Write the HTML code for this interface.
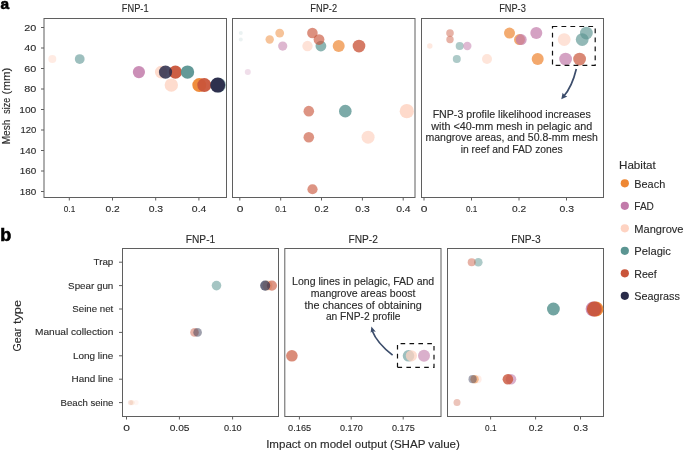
<!DOCTYPE html>
<html><head><meta charset="utf-8"><style>
html,body{margin:0;padding:0;background:#fff;}
body{width:685px;height:450px;overflow:hidden;}
svg{display:block;font-family:"Liberation Sans", sans-serif;will-change:transform;}
text{stroke:#2a2a2a;stroke-width:0.12px;}
</style></head><body>
<svg width="685" height="450" viewBox="0 0 685 450">
<rect width="685" height="450" fill="#fff"/>
<text x="0.5" y="9.0" font-size="15.5" text-anchor="start" font-weight="bold" fill="#000" style="stroke:#000;stroke-width:0.6px">a</text>
<text x="0.3" y="241.3" font-size="18" text-anchor="start" font-weight="bold" fill="#000" style="stroke:#000;stroke-width:0.6px">b</text>
<text x="135.2" y="11.9" font-size="10.3" text-anchor="middle" font-weight="normal" fill="#2a2a2a" textLength="26.7" lengthAdjust="spacingAndGlyphs">FNP-1</text>
<text x="323.7" y="11.9" font-size="10.3" text-anchor="middle" font-weight="normal" fill="#2a2a2a" textLength="26.7" lengthAdjust="spacingAndGlyphs">FNP-2</text>
<text x="512.5" y="11.9" font-size="10.3" text-anchor="middle" font-weight="normal" fill="#2a2a2a" textLength="26.7" lengthAdjust="spacingAndGlyphs">FNP-3</text>
<rect x="44" y="18.5" width="182.5" height="179.0" fill="none" stroke="#5f5f5f" stroke-width="1"/>
<rect x="232.5" y="18.5" width="182.5" height="179.0" fill="none" stroke="#5f5f5f" stroke-width="1"/>
<rect x="421.5" y="18.5" width="182.0" height="179.0" fill="none" stroke="#5f5f5f" stroke-width="1"/>
<line x1="41" y1="27.5" x2="44" y2="27.5" stroke="#5f5f5f" stroke-width="1"/>
<text x="36.3" y="30.9" font-size="9.6" text-anchor="end" font-weight="normal" fill="#2a2a2a" textLength="12.0" lengthAdjust="spacingAndGlyphs">20</text>
<line x1="41" y1="48.0" x2="44" y2="48.0" stroke="#5f5f5f" stroke-width="1"/>
<text x="36.3" y="51.4" font-size="9.6" text-anchor="end" font-weight="normal" fill="#2a2a2a" textLength="12.0" lengthAdjust="spacingAndGlyphs">40</text>
<line x1="41" y1="68.5" x2="44" y2="68.5" stroke="#5f5f5f" stroke-width="1"/>
<text x="36.3" y="71.9" font-size="9.6" text-anchor="end" font-weight="normal" fill="#2a2a2a" textLength="12.0" lengthAdjust="spacingAndGlyphs">60</text>
<line x1="41" y1="89.0" x2="44" y2="89.0" stroke="#5f5f5f" stroke-width="1"/>
<text x="36.3" y="92.4" font-size="9.6" text-anchor="end" font-weight="normal" fill="#2a2a2a" textLength="12.0" lengthAdjust="spacingAndGlyphs">80</text>
<line x1="41" y1="109.5" x2="44" y2="109.5" stroke="#5f5f5f" stroke-width="1"/>
<text x="36.3" y="112.9" font-size="9.6" text-anchor="end" font-weight="normal" fill="#2a2a2a" textLength="17.099999999999998" lengthAdjust="spacingAndGlyphs">100</text>
<line x1="41" y1="130.0" x2="44" y2="130.0" stroke="#5f5f5f" stroke-width="1"/>
<text x="36.3" y="133.4" font-size="9.6" text-anchor="end" font-weight="normal" fill="#2a2a2a" textLength="15.9" lengthAdjust="spacingAndGlyphs">120</text>
<line x1="41" y1="150.5" x2="44" y2="150.5" stroke="#5f5f5f" stroke-width="1"/>
<text x="36.3" y="153.9" font-size="9.6" text-anchor="end" font-weight="normal" fill="#2a2a2a" textLength="16.5" lengthAdjust="spacingAndGlyphs">140</text>
<line x1="41" y1="171.0" x2="44" y2="171.0" stroke="#5f5f5f" stroke-width="1"/>
<text x="36.3" y="174.4" font-size="9.6" text-anchor="end" font-weight="normal" fill="#2a2a2a" textLength="16.5" lengthAdjust="spacingAndGlyphs">160</text>
<line x1="41" y1="191.5" x2="44" y2="191.5" stroke="#5f5f5f" stroke-width="1"/>
<text x="36.3" y="194.9" font-size="9.6" text-anchor="end" font-weight="normal" fill="#2a2a2a" textLength="16.5" lengthAdjust="spacingAndGlyphs">180</text>
<line x1="69.3" y1="197.5" x2="69.3" y2="200.5" stroke="#5f5f5f" stroke-width="1"/>
<text x="69.5" y="212.0" font-size="9.6" text-anchor="middle" font-weight="normal" fill="#2a2a2a" textLength="11.4" lengthAdjust="spacingAndGlyphs">0.1</text>
<line x1="112.5" y1="197.5" x2="112.5" y2="200.5" stroke="#5f5f5f" stroke-width="1"/>
<text x="112.7" y="212.0" font-size="9.6" text-anchor="middle" font-weight="normal" fill="#2a2a2a" textLength="14.200000000000001" lengthAdjust="spacingAndGlyphs">0.2</text>
<line x1="155.7" y1="197.5" x2="155.7" y2="200.5" stroke="#5f5f5f" stroke-width="1"/>
<text x="155.89999999999998" y="212.0" font-size="9.6" text-anchor="middle" font-weight="normal" fill="#2a2a2a" textLength="14.5" lengthAdjust="spacingAndGlyphs">0.3</text>
<line x1="198.9" y1="197.5" x2="198.9" y2="200.5" stroke="#5f5f5f" stroke-width="1"/>
<text x="199.1" y="212.0" font-size="9.6" text-anchor="middle" font-weight="normal" fill="#2a2a2a" textLength="14.5" lengthAdjust="spacingAndGlyphs">0.4</text>
<line x1="239.8" y1="197.5" x2="239.8" y2="200.5" stroke="#5f5f5f" stroke-width="1"/>
<text x="240.0" y="212.0" font-size="9.6" text-anchor="middle" font-weight="normal" fill="#2a2a2a" textLength="6.7" lengthAdjust="spacingAndGlyphs">0</text>
<line x1="280.7" y1="197.5" x2="280.7" y2="200.5" stroke="#5f5f5f" stroke-width="1"/>
<text x="280.9" y="212.0" font-size="9.6" text-anchor="middle" font-weight="normal" fill="#2a2a2a" textLength="11.4" lengthAdjust="spacingAndGlyphs">0.1</text>
<line x1="321.5" y1="197.5" x2="321.5" y2="200.5" stroke="#5f5f5f" stroke-width="1"/>
<text x="321.7" y="212.0" font-size="9.6" text-anchor="middle" font-weight="normal" fill="#2a2a2a" textLength="14.200000000000001" lengthAdjust="spacingAndGlyphs">0.2</text>
<line x1="362.4" y1="197.5" x2="362.4" y2="200.5" stroke="#5f5f5f" stroke-width="1"/>
<text x="362.59999999999997" y="212.0" font-size="9.6" text-anchor="middle" font-weight="normal" fill="#2a2a2a" textLength="14.5" lengthAdjust="spacingAndGlyphs">0.3</text>
<line x1="403.2" y1="197.5" x2="403.2" y2="200.5" stroke="#5f5f5f" stroke-width="1"/>
<text x="403.4" y="212.0" font-size="9.6" text-anchor="middle" font-weight="normal" fill="#2a2a2a" textLength="14.5" lengthAdjust="spacingAndGlyphs">0.4</text>
<line x1="424.0" y1="197.5" x2="424.0" y2="200.5" stroke="#5f5f5f" stroke-width="1"/>
<text x="424.2" y="212.0" font-size="9.6" text-anchor="middle" font-weight="normal" fill="#2a2a2a" textLength="6.7" lengthAdjust="spacingAndGlyphs">0</text>
<line x1="471.5" y1="197.5" x2="471.5" y2="200.5" stroke="#5f5f5f" stroke-width="1"/>
<text x="471.7" y="212.0" font-size="9.6" text-anchor="middle" font-weight="normal" fill="#2a2a2a" textLength="11.4" lengthAdjust="spacingAndGlyphs">0.1</text>
<line x1="519.0" y1="197.5" x2="519.0" y2="200.5" stroke="#5f5f5f" stroke-width="1"/>
<text x="519.2" y="212.0" font-size="9.6" text-anchor="middle" font-weight="normal" fill="#2a2a2a" textLength="14.200000000000001" lengthAdjust="spacingAndGlyphs">0.2</text>
<line x1="566.5" y1="197.5" x2="566.5" y2="200.5" stroke="#5f5f5f" stroke-width="1"/>
<text x="566.7" y="212.0" font-size="9.6" text-anchor="middle" font-weight="normal" fill="#2a2a2a" textLength="14.5" lengthAdjust="spacingAndGlyphs">0.3</text>
<text transform="translate(10,105) rotate(-90)" x="-39.30" y="0" font-size="10.5" fill="#2a2a2a" textLength="24.70" lengthAdjust="spacingAndGlyphs">Mesh</text>
<text transform="translate(10,105) rotate(-90)" x="-8.70" y="0" font-size="10.5" fill="#2a2a2a" textLength="15.80" lengthAdjust="spacingAndGlyphs">size</text>
<text transform="translate(10,105) rotate(-90)" x="10.60" y="0" font-size="10.5" fill="#2a2a2a" textLength="26.80" lengthAdjust="spacingAndGlyphs">(mm)</text>
<circle cx="52.3" cy="59.06999999999999" r="4.0" fill="#fed3c2" fill-opacity="0.45"/>
<circle cx="79.7" cy="59.06999999999999" r="4.9" fill="#5b9592" fill-opacity="0.6"/>
<circle cx="138.9" cy="72.0875" r="6.1" fill="#c27baa" fill-opacity="0.85"/>
<circle cx="161.2" cy="72.0875" r="6.3" fill="#fed3c2" fill-opacity="0.8"/>
<circle cx="175.4" cy="72.0875" r="6.6" fill="#c9553a" fill-opacity="0.95"/>
<circle cx="165.5" cy="72.0875" r="6.6" fill="#2a2c4a" fill-opacity="0.85"/>
<circle cx="187.5" cy="72.0875" r="6.7" fill="#5b9592" fill-opacity="0.95"/>
<circle cx="171.3" cy="85.10499999999999" r="6.7" fill="#fed3c2" fill-opacity="0.8"/>
<circle cx="199.3" cy="85.10499999999999" r="7.0" fill="#ee8733" fill-opacity="0.95"/>
<circle cx="204.3" cy="85.10499999999999" r="7.0" fill="#c9553a" fill-opacity="0.95"/>
<circle cx="218.6" cy="85.10499999999999" r="7.4" fill="#5b9592" fill-opacity="0.6"/>
<circle cx="217.7" cy="85.10499999999999" r="7.5" fill="#2a2c4a" fill-opacity="0.97"/>
<circle cx="240.8" cy="33.035" r="2.0" fill="#5b9592" fill-opacity="0.12"/>
<circle cx="240.8" cy="39.54375" r="2.0" fill="#5b9592" fill-opacity="0.12"/>
<circle cx="247.8" cy="72.0875" r="3.0" fill="#c27baa" fill-opacity="0.25"/>
<circle cx="269.7" cy="39.54375" r="4.2" fill="#ee8733" fill-opacity="0.5"/>
<circle cx="279.7" cy="33.035" r="4.4" fill="#ee8733" fill-opacity="0.5"/>
<circle cx="282.7" cy="46.052499999999995" r="4.6" fill="#c27baa" fill-opacity="0.55"/>
<circle cx="307.5" cy="46.052499999999995" r="5.2" fill="#fed3c2" fill-opacity="0.65"/>
<circle cx="320.9" cy="46.052499999999995" r="5.4" fill="#5b9592" fill-opacity="0.7"/>
<circle cx="312.4" cy="33.035" r="5.3" fill="#c9553a" fill-opacity="0.65"/>
<circle cx="319.0" cy="39.54375" r="5.4" fill="#c9553a" fill-opacity="0.65"/>
<circle cx="338.7" cy="46.052499999999995" r="6.0" fill="#ee8733" fill-opacity="0.7"/>
<circle cx="359.0" cy="46.052499999999995" r="6.35" fill="#c9553a" fill-opacity="0.78"/>
<circle cx="308.8" cy="111.13999999999999" r="5.3" fill="#c9553a" fill-opacity="0.63"/>
<circle cx="345.3" cy="111.13999999999999" r="6.3" fill="#5b9592" fill-opacity="0.8"/>
<circle cx="406.8" cy="111.13999999999999" r="7.1" fill="#fed3c2" fill-opacity="0.85"/>
<circle cx="308.8" cy="137.175" r="5.3" fill="#c9553a" fill-opacity="0.63"/>
<circle cx="368.1" cy="137.175" r="6.5" fill="#fed3c2" fill-opacity="0.7"/>
<circle cx="312.5" cy="189.245" r="5.1" fill="#c9553a" fill-opacity="0.63"/>
<circle cx="429.8" cy="46.052499999999995" r="2.7" fill="#fed3c2" fill-opacity="0.5"/>
<circle cx="450.0" cy="33.035" r="3.8" fill="#c9553a" fill-opacity="0.45"/>
<circle cx="450.0" cy="39.54375" r="3.7" fill="#c9553a" fill-opacity="0.45"/>
<circle cx="459.7" cy="46.052499999999995" r="4.0" fill="#5b9592" fill-opacity="0.5"/>
<circle cx="467.3" cy="46.052499999999995" r="4.2" fill="#c27baa" fill-opacity="0.52"/>
<circle cx="456.8" cy="59.06999999999999" r="4.0" fill="#5b9592" fill-opacity="0.5"/>
<circle cx="487.0" cy="59.06999999999999" r="5.0" fill="#fed3c2" fill-opacity="0.6"/>
<circle cx="509.5" cy="33.035" r="5.5" fill="#ee8733" fill-opacity="0.7"/>
<circle cx="519.5" cy="39.54375" r="5.5" fill="#ee8733" fill-opacity="0.7"/>
<circle cx="521.2" cy="39.54375" r="5.5" fill="#c27baa" fill-opacity="0.7"/>
<circle cx="536.3" cy="33.035" r="6.0" fill="#c27baa" fill-opacity="0.7"/>
<circle cx="537.7" cy="59.06999999999999" r="6.0" fill="#ee8733" fill-opacity="0.72"/>
<circle cx="564.2" cy="39.54375" r="6.4" fill="#fed3c2" fill-opacity="0.65"/>
<circle cx="586.4" cy="33.035" r="6.4" fill="#5b9592" fill-opacity="0.66"/>
<circle cx="582.2" cy="39.54375" r="6.4" fill="#5b9592" fill-opacity="0.66"/>
<circle cx="565.6" cy="59.06999999999999" r="6.4" fill="#c27baa" fill-opacity="0.7"/>
<circle cx="579.6" cy="59.06999999999999" r="6.4" fill="#c9553a" fill-opacity="0.7"/>
<path d="M552.5,26.5 H595.2 V65.4 H552.5 Z" fill="none" stroke="#111" stroke-width="1.2" stroke-dasharray="4.8 4.15"/>
<path d="M576.3,69 Q572,87 563.5,96.5" fill="none" stroke="#3c4d6b" stroke-width="1.7"/>
<path d="M561.3,99.2 L562.6,92.8 L564.5,95.3 L567.3,96.5 Z" fill="#3c4d6b"/>
<text x="511.7" y="117.9" font-size="10" text-anchor="middle" font-weight="normal" fill="#2a2a2a" textLength="158.1" lengthAdjust="spacingAndGlyphs">FNP-3 profile likelihood increases</text>
<text x="511.7" y="129.5" font-size="10" text-anchor="middle" font-weight="normal" fill="#2a2a2a" textLength="160.9" lengthAdjust="spacingAndGlyphs">with &lt;40-mm mesh in pelagic and</text>
<text x="511.7" y="141.0" font-size="10" text-anchor="middle" font-weight="normal" fill="#2a2a2a" textLength="172.5" lengthAdjust="spacingAndGlyphs">mangrove areas, and 50.8-mm mesh</text>
<text x="511.7" y="152.8" font-size="10" text-anchor="middle" font-weight="normal" fill="#2a2a2a" textLength="102.0" lengthAdjust="spacingAndGlyphs">in reef and FAD zones</text>
<rect x="122.5" y="248.5" width="156.0" height="168.0" fill="none" stroke="#5f5f5f" stroke-width="1"/>
<rect x="284.8" y="248.5" width="156.2" height="168.0" fill="none" stroke="#5f5f5f" stroke-width="1"/>
<rect x="447.5" y="248.5" width="156.0" height="168.0" fill="none" stroke="#5f5f5f" stroke-width="1"/>
<text x="200.5" y="243.4" font-size="10.3" text-anchor="middle" font-weight="normal" fill="#2a2a2a" textLength="29.4" lengthAdjust="spacingAndGlyphs">FNP-1</text>
<text x="363.2" y="243.4" font-size="10.3" text-anchor="middle" font-weight="normal" fill="#2a2a2a" textLength="29.4" lengthAdjust="spacingAndGlyphs">FNP-2</text>
<text x="525.9" y="243.4" font-size="10.3" text-anchor="middle" font-weight="normal" fill="#2a2a2a" textLength="29.4" lengthAdjust="spacingAndGlyphs">FNP-3</text>
<line x1="119" y1="262.2" x2="122.5" y2="262.2" stroke="#5f5f5f" stroke-width="1"/>
<text x="113.3" y="265.09999999999997" font-size="9.8" text-anchor="end" font-weight="normal" fill="#2a2a2a" textLength="19.8" lengthAdjust="spacingAndGlyphs">Trap</text>
<line x1="119" y1="285.59999999999997" x2="122.5" y2="285.59999999999997" stroke="#5f5f5f" stroke-width="1"/>
<text x="113.3" y="288.49999999999994" font-size="9.8" text-anchor="end" font-weight="normal" fill="#2a2a2a" textLength="45.199999999999996" lengthAdjust="spacingAndGlyphs">Spear gun</text>
<line x1="119" y1="309.0" x2="122.5" y2="309.0" stroke="#5f5f5f" stroke-width="1"/>
<text x="113.3" y="311.9" font-size="9.8" text-anchor="end" font-weight="normal" fill="#2a2a2a" textLength="41.0" lengthAdjust="spacingAndGlyphs">Seine net</text>
<line x1="119" y1="332.4" x2="122.5" y2="332.4" stroke="#5f5f5f" stroke-width="1"/>
<text x="113.3" y="335.29999999999995" font-size="9.8" text-anchor="end" font-weight="normal" fill="#2a2a2a" textLength="78.3" lengthAdjust="spacingAndGlyphs">Manual collection</text>
<line x1="119" y1="355.79999999999995" x2="122.5" y2="355.79999999999995" stroke="#5f5f5f" stroke-width="1"/>
<text x="113.3" y="358.69999999999993" font-size="9.8" text-anchor="end" font-weight="normal" fill="#2a2a2a" textLength="40.3" lengthAdjust="spacingAndGlyphs">Long line</text>
<line x1="119" y1="379.2" x2="122.5" y2="379.2" stroke="#5f5f5f" stroke-width="1"/>
<text x="113.3" y="382.09999999999997" font-size="9.8" text-anchor="end" font-weight="normal" fill="#2a2a2a" textLength="41.8" lengthAdjust="spacingAndGlyphs">Hand line</text>
<line x1="119" y1="402.59999999999997" x2="122.5" y2="402.59999999999997" stroke="#5f5f5f" stroke-width="1"/>
<text x="113.3" y="405.49999999999994" font-size="9.8" text-anchor="end" font-weight="normal" fill="#2a2a2a" textLength="52.699999999999996" lengthAdjust="spacingAndGlyphs">Beach seine</text>
<line x1="126.5" y1="416.5" x2="126.5" y2="419.5" stroke="#5f5f5f" stroke-width="1"/>
<text x="126.7" y="431.1" font-size="9.6" text-anchor="middle" font-weight="normal" fill="#2a2a2a" textLength="6.7" lengthAdjust="spacingAndGlyphs">0</text>
<line x1="179.4" y1="416.5" x2="179.4" y2="419.5" stroke="#5f5f5f" stroke-width="1"/>
<text x="179.6" y="431.1" font-size="9.6" text-anchor="middle" font-weight="normal" fill="#2a2a2a" textLength="19.9" lengthAdjust="spacingAndGlyphs">0.05</text>
<line x1="232.6" y1="416.5" x2="232.6" y2="419.5" stroke="#5f5f5f" stroke-width="1"/>
<text x="232.79999999999998" y="431.1" font-size="9.6" text-anchor="middle" font-weight="normal" fill="#2a2a2a" textLength="17.799999999999997" lengthAdjust="spacingAndGlyphs">0.10</text>
<line x1="299.4" y1="416.5" x2="299.4" y2="419.5" stroke="#5f5f5f" stroke-width="1"/>
<text x="299.59999999999997" y="431.1" font-size="9.6" text-anchor="middle" font-weight="normal" fill="#2a2a2a" textLength="23.099999999999998" lengthAdjust="spacingAndGlyphs">0.165</text>
<line x1="351.2" y1="416.5" x2="351.2" y2="419.5" stroke="#5f5f5f" stroke-width="1"/>
<text x="351.4" y="431.1" font-size="9.6" text-anchor="middle" font-weight="normal" fill="#2a2a2a" textLength="22.7" lengthAdjust="spacingAndGlyphs">0.170</text>
<line x1="403.2" y1="416.5" x2="403.2" y2="419.5" stroke="#5f5f5f" stroke-width="1"/>
<text x="403.4" y="431.1" font-size="9.6" text-anchor="middle" font-weight="normal" fill="#2a2a2a" textLength="22.7" lengthAdjust="spacingAndGlyphs">0.175</text>
<line x1="490.6" y1="416.5" x2="490.6" y2="419.5" stroke="#5f5f5f" stroke-width="1"/>
<text x="490.8" y="431.1" font-size="9.6" text-anchor="middle" font-weight="normal" fill="#2a2a2a" textLength="11.4" lengthAdjust="spacingAndGlyphs">0.1</text>
<line x1="535.6" y1="416.5" x2="535.6" y2="419.5" stroke="#5f5f5f" stroke-width="1"/>
<text x="535.8000000000001" y="431.1" font-size="9.6" text-anchor="middle" font-weight="normal" fill="#2a2a2a" textLength="14.200000000000001" lengthAdjust="spacingAndGlyphs">0.2</text>
<line x1="580.5" y1="416.5" x2="580.5" y2="419.5" stroke="#5f5f5f" stroke-width="1"/>
<text x="580.7" y="431.1" font-size="9.6" text-anchor="middle" font-weight="normal" fill="#2a2a2a" textLength="14.5" lengthAdjust="spacingAndGlyphs">0.3</text>
<text transform="translate(21,325.5) rotate(-90)" x="-25.90" y="0" font-size="10.5" fill="#2a2a2a" textLength="23.50" lengthAdjust="spacingAndGlyphs">Gear</text>
<text transform="translate(21,325.5) rotate(-90)" x="1.40" y="0" font-size="10.5" fill="#2a2a2a" textLength="24.20" lengthAdjust="spacingAndGlyphs">type</text>
<text x="363" y="447.8" font-size="10.5" text-anchor="middle" font-weight="normal" fill="#2a2a2a" textLength="193.7" lengthAdjust="spacingAndGlyphs">Impact on model output (SHAP value)</text>
<circle cx="216.5" cy="285.59999999999997" r="4.8" fill="#5b9592" fill-opacity="0.55"/>
<circle cx="267.5" cy="285.59999999999997" r="5.0" fill="#ee8733" fill-opacity="0.3"/>
<circle cx="271.9" cy="285.59999999999997" r="5.1" fill="#c9553a" fill-opacity="0.62"/>
<circle cx="265.2" cy="285.59999999999997" r="5.05" fill="#2a2c4a" fill-opacity="0.7"/>
<circle cx="194.5" cy="332.4" r="4.3" fill="#c9553a" fill-opacity="0.45"/>
<circle cx="197.6" cy="332.4" r="4.3" fill="#2a2c4a" fill-opacity="0.45"/>
<circle cx="130.5" cy="402.59999999999997" r="2.6" fill="#c9553a" fill-opacity="0.15"/>
<circle cx="132.0" cy="402.59999999999997" r="2.6" fill="#ee8733" fill-opacity="0.15"/>
<circle cx="136.0" cy="402.59999999999997" r="2.6" fill="#fed3c2" fill-opacity="0.2"/>
<circle cx="291.9" cy="355.79999999999995" r="5.8" fill="#c9553a" fill-opacity="0.68"/>
<circle cx="408.5" cy="355.79999999999995" r="5.8" fill="#5b9592" fill-opacity="0.6"/>
<circle cx="411.4" cy="355.79999999999995" r="5.6" fill="#fed3c2" fill-opacity="0.75"/>
<circle cx="424.0" cy="355.79999999999995" r="6.0" fill="#c27baa" fill-opacity="0.6"/>
<path d="M397.5,367.4 H434 V343.7 H397.5 Z" fill="none" stroke="#111" stroke-width="1.2" stroke-dasharray="4.6 4.3"/>
<path d="M392.6,355.2 Q377,343 372.3,331" fill="none" stroke="#3c4d6b" stroke-width="1.7"/>
<path d="M371.4,326.4 L370.6,332.8 L372.4,331.2 L375.8,331.8 Z" fill="#3c4d6b"/>
<text x="363.15" y="284.7" font-size="10" text-anchor="middle" font-weight="normal" fill="#2a2a2a" textLength="142.1" lengthAdjust="spacingAndGlyphs">Long lines in pelagic, FAD and</text>
<text x="363.15" y="296.6" font-size="10" text-anchor="middle" font-weight="normal" fill="#2a2a2a" textLength="104.8" lengthAdjust="spacingAndGlyphs">mangrove areas boost</text>
<text x="363.15" y="308.5" font-size="10" text-anchor="middle" font-weight="normal" fill="#2a2a2a" textLength="117.3" lengthAdjust="spacingAndGlyphs">the chances of obtaining</text>
<text x="363.15" y="320.4" font-size="10" text-anchor="middle" font-weight="normal" fill="#2a2a2a" textLength="74.5" lengthAdjust="spacingAndGlyphs">an FNP-2 profile</text>
<circle cx="478.3" cy="262.2" r="4.3" fill="#5b9592" fill-opacity="0.5"/>
<circle cx="471.7" cy="262.2" r="4.0" fill="#c9553a" fill-opacity="0.45"/>
<circle cx="553.4" cy="309.0" r="6.4" fill="#5b9592" fill-opacity="0.85"/>
<circle cx="596.0" cy="309.0" r="7.4" fill="#ee8733" fill-opacity="0.95"/>
<circle cx="593.0" cy="309.0" r="7.4" fill="#c27baa" fill-opacity="0.8"/>
<circle cx="594.3" cy="309.0" r="7.45" fill="#c9553a" fill-opacity="0.92"/>
<circle cx="477.6" cy="379.2" r="4.0" fill="#fed3c2" fill-opacity="0.4"/>
<circle cx="474.6" cy="379.2" r="4.2" fill="#ee8733" fill-opacity="0.5"/>
<circle cx="472.6" cy="379.2" r="4.1" fill="#2a2c4a" fill-opacity="0.42"/>
<circle cx="511.0" cy="379.2" r="5.3" fill="#c27baa" fill-opacity="0.6"/>
<circle cx="507.9" cy="379.2" r="5.3" fill="#c9553a" fill-opacity="0.8"/>
<circle cx="457.0" cy="402.59999999999997" r="3.5" fill="#c9553a" fill-opacity="0.35"/>
<text x="619.0" y="168.7" font-size="10.5" text-anchor="start" font-weight="normal" fill="#2a2a2a" textLength="36.8" lengthAdjust="spacingAndGlyphs">Habitat</text>
<circle cx="624.8" cy="183.3" r="4.1" fill="#ee8733" fill-opacity="1.0"/>
<text x="634.3" y="187.5" font-size="10.7" text-anchor="start" font-weight="normal" fill="#2a2a2a" textLength="30.9" lengthAdjust="spacingAndGlyphs">Beach</text>
<circle cx="624.8" cy="205.8" r="4.1" fill="#c27baa" fill-opacity="1.0"/>
<text x="634.3" y="210.0" font-size="10.7" text-anchor="start" font-weight="normal" fill="#2a2a2a" textLength="19.6" lengthAdjust="spacingAndGlyphs">FAD</text>
<circle cx="624.8" cy="228.3" r="4.1" fill="#fed3c2" fill-opacity="1.0"/>
<text x="634.3" y="232.5" font-size="10.7" text-anchor="start" font-weight="normal" fill="#2a2a2a" textLength="49.2" lengthAdjust="spacingAndGlyphs">Mangrove</text>
<circle cx="624.8" cy="250.8" r="4.1" fill="#5b9592" fill-opacity="1.0"/>
<text x="634.3" y="255.0" font-size="10.7" text-anchor="start" font-weight="normal" fill="#2a2a2a" textLength="36.6" lengthAdjust="spacingAndGlyphs">Pelagic</text>
<circle cx="624.8" cy="273.3" r="4.1" fill="#c9553a" fill-opacity="1.0"/>
<text x="634.3" y="277.5" font-size="10.7" text-anchor="start" font-weight="normal" fill="#2a2a2a" textLength="22.4" lengthAdjust="spacingAndGlyphs">Reef</text>
<circle cx="624.8" cy="295.8" r="4.1" fill="#2a2c4a" fill-opacity="1.0"/>
<text x="634.3" y="300.0" font-size="10.7" text-anchor="start" font-weight="normal" fill="#2a2a2a" textLength="45.6" lengthAdjust="spacingAndGlyphs">Seagrass</text>
</svg>
</body></html>
